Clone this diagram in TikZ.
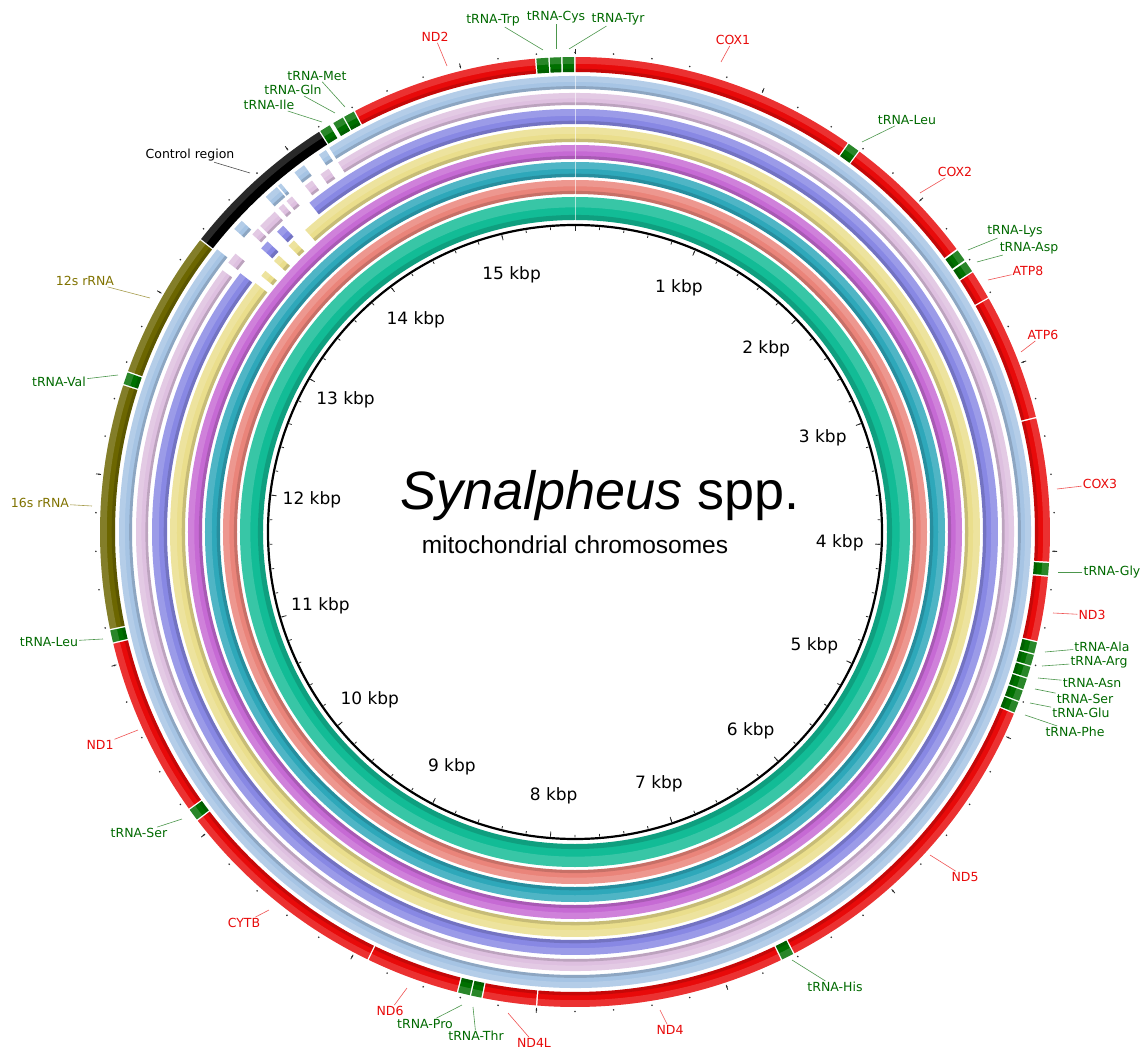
\documentclass[tikz,border=0pt]{standalone}
\usepackage{fontspec}
\setsansfont{DejaVu Sans}
\newfontfamily\titlefont{Liberation Sans}

\definecolor{generd}{RGB}{232,10,10}
\definecolor{trnagreen}{RGB}{0,112,0}
\definecolor{rrnaolive}{RGB}{108,102,0}
\definecolor{txtgreen}{RGB}{0,105,0}
\definecolor{txtolive}{RGB}{128,114,0}
\definecolor{ringblue}{RGB}{166,196,228}
\definecolor{ringpink}{RGB}{222,192,224}
\definecolor{ringpurple}{RGB}{136,136,228}
\definecolor{ringyellow}{RGB}{234,222,140}
\definecolor{ringmagenta}{RGB}{198,106,212}
\definecolor{ringteal}{RGB}{46,168,186}
\definecolor{ringsalmon}{RGB}{234,132,122}
\definecolor{ringgreen}{RGB}{18,188,150}

% genome length in kbp
\newcommand{\glen}{15.6}
% filled arc: start kbp, end kbp, inner r, outer r, fill options
\newcommand{\kbarc}[5]{%
  \pgfmathsetmacro{\angA}{90-(#1)*360/\glen}%
  \pgfmathsetmacro{\angB}{90-(#2)*360/\glen}%
  \fill[#5] (\angA:#4) arc[start angle=\angA, end angle=\angB, radius=#4]
    -- (\angB:#3) arc[start angle=\angB, end angle=\angA, radius=#3] -- cycle;}
% same, with a light outer half and a darker inner rim
\newcommand{\shadedarc}[5]{%
  \pgfmathsetmacro{\rMid}{#3+0.55*(#4-#3)}%
  \pgfmathsetmacro{\rRim}{#3+0.22*(#4-#3)}%
  \kbarc{#1}{#2}{#3}{#4}{#5}%
  \kbarc{#1}{#2}{\rMid}{#4}{white,opacity=0.16}%
  \kbarc{#1}{#2}{#3}{\rRim}{black,opacity=0.15}}

\begin{document}
\begin{tikzpicture}[x=1pt, y=1pt,
    glab/.style={font=\sffamily\fontsize{12.5}{14}\selectfont, inner sep=1pt},
    kbplab/.style={font=\sffamily\fontsize{17}{20}\selectfont, inner sep=0pt},
    leader/.style={line width=0.6pt},
    tickmark/.style={line width=0.8pt, black!85}
]
\useasboundingbox (-575,-517) rectangle (570,532);

% blast rings without gaps
\foreach \rin/\rout/\col in {373/387/ringmagenta, 355/370/ringteal,
                             338/352/ringsalmon, 312/335/ringgreen}
  {\shadedarc{0}{\glen}{\rin}{\rout}{\col}}

% blast rings with gaps over the control region
\shadedarc{14.187}{28.960}{443}{456}{ringblue}
\foreach \s/\e in {13.505/13.565, 13.750/13.830, 13.840/13.860,
                   13.955/14.020, 14.120/14.165}
  {\shadedarc{\s}{\e}{443}{456}{ringblue}}
\shadedarc{14.185}{28.886}{427}{439}{ringpink}
\foreach \s/\e in {13.340/13.405, 13.550/13.595, 13.615/13.730, 13.760/13.795,
                   13.820/13.860, 13.955/14.005, 14.065/14.120}
  {\shadedarc{\s}{\e}{427}{439}{ringpink}}
\shadedarc{13.915}{28.934}{408}{423}{ringpurple}
\foreach \s/\e in {13.525/13.580, 13.660/13.710}
  {\shadedarc{\s}{\e}{408}{423}{ringpurple}}
\shadedarc{13.790}{28.943}{390}{405}{ringyellow}
\foreach \s/\e in {13.400/13.440, 13.520/13.565, 13.650/13.695}
  {\shadedarc{\s}{\e}{390}{405}{ringyellow}}
\draw[white, opacity=0.6, line width=0.8pt] (90:312) -- (90:456);

% genes
\foreach \s/\e/\col in {
    0/1.520/generd, 1.522/1.590/trnagreen, 1.592/2.318/generd,
    2.322/2.390/trnagreen, 2.395/2.460/trnagreen, 2.462/2.620/generd,
    2.622/3.295/generd, 3.297/4.058/generd, 4.060/4.130/trnagreen,
    4.132/4.478/generd, 4.480/4.545/trnagreen, 4.547/4.610/trnagreen,
    4.612/4.675/trnagreen, 4.677/4.740/trnagreen, 4.742/4.805/trnagreen,
    4.807/4.870/trnagreen, 4.872/6.610/generd, 6.612/6.682/trnagreen,
    6.684/8.000/generd, 8.002/8.288/generd, 8.290/8.350/trnagreen,
    8.352/8.420/trnagreen, 8.422/8.918/generd, 8.920/10.081/generd,
    10.083/10.152/trnagreen, 10.154/11.113/generd, 11.115/11.185/trnagreen,
    11.187/12.482/rrnaolive, 12.484/12.553/trnagreen, 12.555/13.345/rrnaolive,
    13.347/14.190/black, 14.192/14.255/trnagreen, 14.272/14.335/trnagreen,
    14.337/14.400/trnagreen, 14.402/15.393/generd, 15.395/15.463/trnagreen,
    15.465/15.530/trnagreen, 15.532/15.598/trnagreen}
  {\shadedarc{\s+0.003}{\e-0.003}{460}{475}{\col}}

% backbone and scale
\draw[line width=2.2pt] (0,0) circle[radius=307];
\foreach \i in {0,...,77} {
  \pgfmathsetmacro{\ang}{90-\i*0.2*360/\glen}
  \draw[tickmark] (\ang:305.5) -- (\ang:303);
  \fill[black!80] (\ang:479.5) circle[radius=0.9];
}
\foreach \k in {0,...,15} {
  \pgfmathsetmacro{\ang}{90-\k*360/\glen}
  \draw[tickmark] (\ang:305.5) -- (\ang:300.5);
  \draw[tickmark] (\ang:477.5) -- (\ang:482.5);
}
\foreach \k in {1,...,15} {
  \pgfmathsetmacro{\ang}{90-\k*360/\glen}
  \node[kbplab] (kbp\k) at (\ang:265) {\k\ kbp};
}

\node[font=\titlefont\fontsize{54}{60}\selectfont] (title) at (25,36)
  {\textit{Synalpheus} spp.};
\node[font=\titlefont\fontsize{24.5}{28}\selectfont] (subtitle) at (0,-13)
  {mitochondrial chromosomes};

% gene labels, in image pixels
\begin{scope}[shift={(-575pt,532pt)}, y=-1pt]
\foreach \txt/\col/\lx/\ly/\tx/\ty [count=\i] in {
    ND2/generd/435/37/447/66,
    tRNA-Trp/txtgreen/493/20/543/50,
    tRNA-Cys/txtgreen/556/17/556/49,
    tRNA-Tyr/txtgreen/618/19/569/49,
    COX1/generd/733/40/721/62,
    tRNA-Leu/txtgreen/907/120/862/142,
    COX2/generd/955/172/920/193,
    tRNA-Lys/txtgreen/1015/231/968/250,
    tRNA-Asp/txtgreen/1029/248/977/262,
    ATP8/generd/1028/271/988/280,
    ATP6/generd/1043/335/1021/352,
    COX3/generd/1100/484/1057/489,
    tRNA-Gly/txtgreen/1112/572/1058/572,
    ND3/generd/1092/615/1053/613,
    tRNA-Ala/txtgreen/1102/647/1045/652,
    tRNA-Arg/txtgreen/1099/662/1042/666,
    tRNA-Asn/txtgreen/1092/683/1038/678,
    tRNA-Ser/txtgreen/1085/699/1035/689,
    tRNA-Glu/txtgreen/1081/713/1030/703,
    tRNA-Phe/txtgreen/1075/732/1025/715,
    ND5/generd/965/877/930/855,
    tRNA-His/txtgreen/835/987/792/960,
    ND4/generd/670/1030/660/1010,
    ND4L/generd/534/1043/508/1013,
    tRNA-Thr/txtgreen/476/1036/473/1007,
    tRNA-Pro/txtgreen/425/1024/462/1005,
    ND6/generd/390/1011/407/988,
    CYTB/generd/244/923/269/910,
    tRNA-Ser/txtgreen/139/833/182/819,
    ND1/generd/100/745/138/730,
    tRNA-Leu/txtgreen/49/642/103/639,
    16s rRNA/txtolive/40/503/92/506,
    tRNA-Val/txtgreen/59/382/118/375,
    12s rRNA/txtolive/85/281/150/298,
    Control region/black/190/155/250/173,
    tRNA-Ile/txtgreen/269/105/322/122,
    tRNA-Gln/txtgreen/293/90/335/113,
    tRNA-Met/txtgreen/317/76/345/107}
{
  \node[glab, text=\col] (lab\i) at (\lx,\ly) {\txt};
  \coordinate (tip\i) at (\tx,\ty);
  \draw[leader, draw=\col!70!white] (lab\i) -- (tip\i);
}
\end{scope}
\end{tikzpicture}
\end{document}
